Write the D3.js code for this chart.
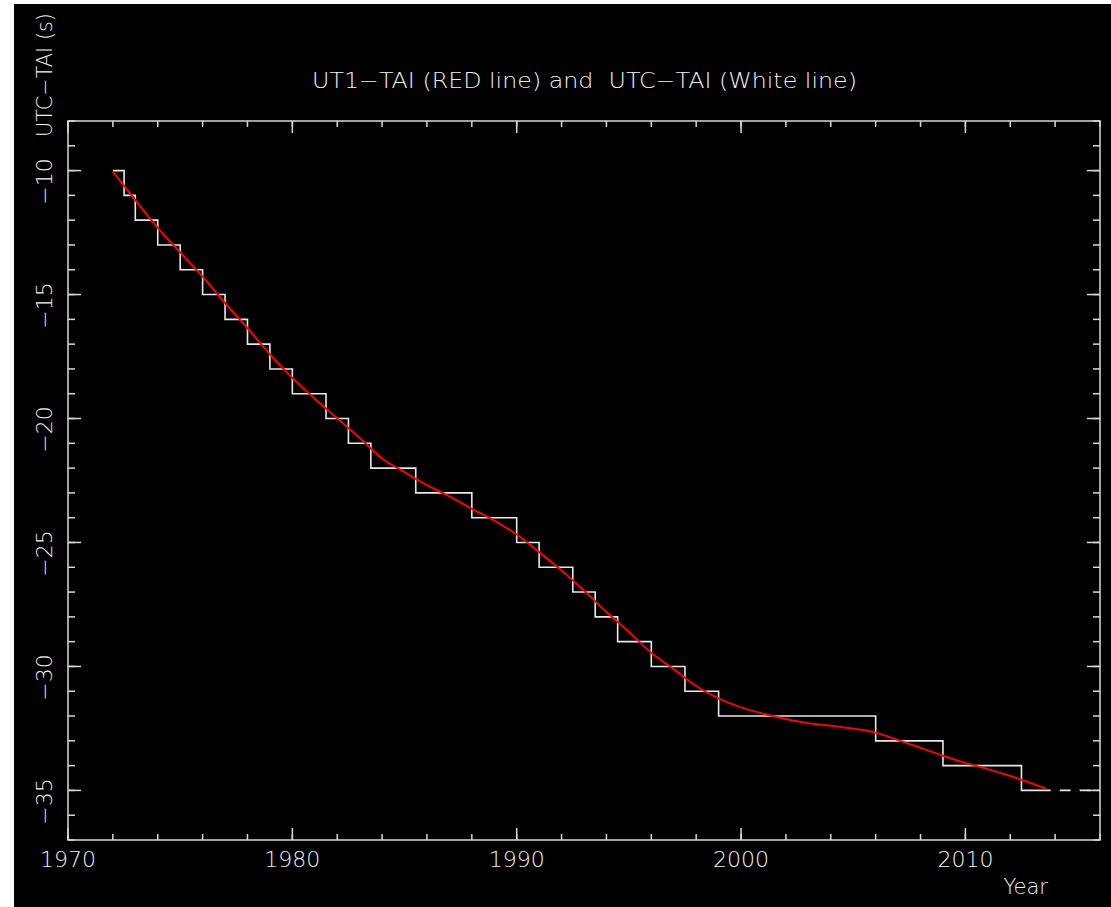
<!DOCTYPE html>
<html>
<head>
<meta charset="utf-8">
<script src="https://cdn.jsdelivr.net/npm/d3@7"></script>
<style>
  html, body { margin: 0; padding: 0; background: #fff; }
  svg text { font-family: "DejaVu Sans", sans-serif; font-weight: 200; fill: #f0f0f0; }
</style>
</head>
<body>
<div id="chart"></div>
<script>
// UTC-TAI leap second steps (year the value starts, seconds)
var stepYears = [1972.0, 1972.5, 1973, 1974, 1975, 1976, 1977, 1978, 1979, 1980,
                 1981.5, 1982.5, 1983.5, 1985.5, 1988, 1990, 1991, 1992.5, 1993.5, 1994.5,
                 1996, 1997.5, 1999, 2006, 2009, 2012.5, 2013.8];
var stepValues = [-10, -11, -12, -13, -14, -15, -16, -17, -18, -19,
                  -20, -21, -22, -23, -24, -25, -26, -27, -28, -29,
                  -30, -31, -32, -33, -34, -35, -35];
// dashed continuation of the last step
var dashYears = [2013.8, 2016];
var dashValues = [-35, -35];

// UT1-TAI (red curve)
var ut1Years = [1972, 1973, 1974, 1975, 1976, 1977, 1978, 1979, 1980, 1981,
                1982, 1983, 1984, 1985, 1986, 1987, 1988, 1989, 1990, 1991,
                1992, 1993, 1994, 1995, 1996, 1997, 1998, 1999, 2000, 2001,
                2002, 2003, 2004, 2005, 2006, 2007, 2008, 2009, 2010, 2011,
                2012, 2013, 2013.6];
var ut1Values = [-10.04, -11.19, -12.31, -13.30, -14.28, -15.34, -16.35, -17.41, -18.36, -19.20,
                 -19.99, -20.78, -21.61, -22.16, -22.69, -23.14, -23.64, -24.12, -24.68, -25.39,
                 -26.13, -26.94, -27.80, -28.60, -29.45, -30.11, -30.79, -31.29, -31.65, -31.91,
                 -32.12, -32.29, -32.39, -32.51, -32.67, -32.97, -33.28, -33.60, -33.89, -34.14,
                 -34.42, -34.73, -34.93];

var xMajor = [1970, 1980, 1990, 2000, 2010];
var xMinor = d3.range(1970, 2017, 2);
var yMajor = [-10, -15, -20, -25, -30, -35];
var yMinor = d3.range(-37, -7, 1);

var W = 1111, H = 907;
var pLeft = 68, pRight = 1100, pTop = 121, pBottom = 840;
var axisColor = "#d8d8d8";

var svg = d3.select("#chart").append("svg")
    .attr("width", W).attr("height", H);

svg.append("rect").attr("x", 14).attr("y", 4)
    .attr("width", W - 14).attr("height", H - 4).attr("fill", "#000");

var x = d3.scaleLinear().domain([1970, 2016]).range([pLeft, pRight]);
var y = d3.scaleLinear().domain([-37, -8]).range([pBottom, pTop]);

var g = svg.append("g");

// ticks on all four sides
function ticks(vals, len, isX) {
    vals.forEach(function(v) {
        if (isX) {
            g.append("line").attr("x1", x(v)).attr("x2", x(v)).attr("y1", pBottom).attr("y2", pBottom - len);
            g.append("line").attr("x1", x(v)).attr("x2", x(v)).attr("y1", pTop).attr("y2", pTop + len);
        } else {
            g.append("line").attr("y1", y(v)).attr("y2", y(v)).attr("x1", pLeft).attr("x2", pLeft + len);
            g.append("line").attr("y1", y(v)).attr("y2", y(v)).attr("x1", pRight).attr("x2", pRight - len);
        }
    });
}
ticks(xMinor, 6, true);
ticks(xMajor, 12, true);
ticks(yMinor, 7, false);
ticks(yMajor, 13, false);
g.selectAll("line").attr("stroke", axisColor).attr("stroke-width", 1.5);

g.append("rect").attr("x", pLeft).attr("y", pTop)
    .attr("width", pRight - pLeft).attr("height", pBottom - pTop)
    .attr("fill", "none").attr("stroke", axisColor).attr("stroke-width", 1.5);

// tick labels
svg.selectAll(".xl").data(xMajor).enter().append("text")
    .attr("x", function(d) { return x(d); })
    .attr("y", 867)
    .attr("text-anchor", "middle")
    .attr("font-size", 22)
    .text(function(d) { return d; });

svg.selectAll(".yl").data(yMajor).enter().append("text")
    .attr("transform", function(d) { return "translate(52," + (y(d) + 11) + ") rotate(-90)"; })
    .attr("text-anchor", "middle")
    .attr("font-size", 22)
    .text(function(d) { return "\u2212" + Math.abs(d); });

// titles
svg.append("text")
    .attr("x", 312).attr("y", 88)
    .attr("font-size", 21)
    .attr("textLength", 545)
    .attr("lengthAdjust", "spacingAndGlyphs")
    .attr("xml:space", "preserve")
    .text("UT1\u2212TAI (RED line) and  UTC\u2212TAI (White line)");

svg.append("text")
    .attr("transform", "translate(52,137) rotate(-90)")
    .attr("font-size", 21)
    .attr("textLength", 124)
    .attr("lengthAdjust", "spacingAndGlyphs")
    .text("UTC\u2212TAI (s)");

svg.append("text")
    .attr("x", 1048).attr("y", 894)
    .attr("text-anchor", "end")
    .attr("font-size", 21)
    .text("Year");

// data lines
var steps = stepYears.map(function(d, i) { return [d, stepValues[i]]; });
var dash = dashYears.map(function(d, i) { return [d, dashValues[i]]; });
var ut1 = ut1Years.map(function(d, i) { return [d, ut1Values[i]]; });

var stepLine = d3.line().x(function(d) { return x(d[0]); }).y(function(d) { return y(d[1]); })
    .curve(d3.curveStepAfter);
var plain = d3.line().x(function(d) { return x(d[0]); }).y(function(d) { return y(d[1]); });
var smooth = d3.line().x(function(d) { return x(d[0]); }).y(function(d) { return y(d[1]); })
    .curve(d3.curveMonotoneX);

svg.append("path").attr("d", stepLine(steps))
    .attr("fill", "none").attr("stroke", "#e8e8e8").attr("stroke-width", 1.6);

svg.append("path").attr("d", plain(dash))
    .attr("fill", "none").attr("stroke", "#e8e8e8").attr("stroke-width", 1.6)
    .attr("stroke-dasharray", "11,9").attr("stroke-dashoffset", 11);

svg.append("path").attr("d", smooth(ut1))
    .attr("fill", "none").attr("stroke", "#ff0000").attr("stroke-width", 2);
</script>
</body>
</html>
